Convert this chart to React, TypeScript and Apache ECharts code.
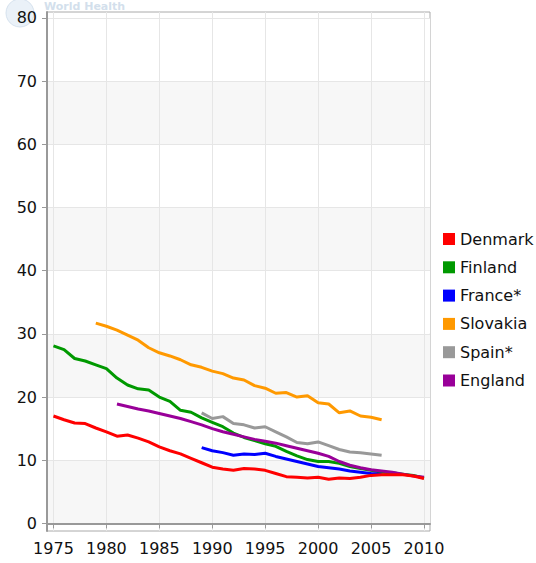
import React, { useEffect, useRef } from "react";
import * as echarts from "echarts";

const countries = ["Denmark", "Finland", "France*", "Slovakia", "Spain*", "England"];
const colors = ["#ff0000", "#009900", "#0000ff", "#ff9900", "#999999", "#990099"];
const startYears = [1975, 1975, 1989, 1979, 1989, 1981];

const denmark = [17.0, 16.4, 15.9, 15.8, 15.1, 14.5, 13.8, 14.0, 13.5, 12.9, 12.1, 11.5, 11.0, 10.3, 9.6, 8.9, 8.6, 8.4, 8.7, 8.6, 8.4, 7.9, 7.4, 7.3, 7.2, 7.3, 7.0, 7.2, 7.1, 7.3, 7.6, 7.7, 7.7, 7.7, 7.5, 7.1];
const finland = [28.1, 27.5, 26.1, 25.7, 25.1, 24.5, 23.0, 21.9, 21.3, 21.1, 20.0, 19.3, 17.9, 17.6, 16.7, 16.0, 15.3, 14.3, 13.6, 13.1, 12.6, 12.2, 11.4, 10.7, 10.1, 9.8, 9.8, 9.5, 9.0, 8.7, 8.4, 8.1, 8.0, 7.8, 7.6, 7.2];
const france = [12.0, 11.5, 11.2, 10.8, 11.0, 10.9, 11.1, 10.6, 10.2, 9.8, 9.4, 9.0, 8.8, 8.6, 8.3, 8.1, 7.9, 7.8];
const slovakia = [31.7, 31.2, 30.6, 29.8, 29.0, 27.8, 27.0, 26.5, 25.9, 25.1, 24.7, 24.1, 23.7, 23.0, 22.7, 21.8, 21.4, 20.6, 20.7, 20.0, 20.2, 19.1, 18.9, 17.5, 17.8, 17.0, 16.8, 16.4];
const spain = [17.5, 16.6, 16.9, 15.8, 15.6, 15.1, 15.3, 14.5, 13.7, 12.8, 12.6, 12.9, 12.3, 11.7, 11.3, 11.2, 11.0, 10.8];
const england = [18.9, 18.5, 18.1, 17.8, 17.4, 17.0, 16.6, 16.1, 15.6, 15.0, 14.5, 14.1, 13.7, 13.3, 13.0, 12.7, 12.3, 11.9, 11.5, 11.1, 10.6, 9.8, 9.2, 8.8, 8.5, 8.3, 8.1, 7.8, 7.5, 7.3];

const seriesValues = [denmark, finland, france, slovakia, spain, england];
const xTickLabels = [1975, 1980, 1985, 1990, 1995, 2000, 2005, 2010];
const yTickLabels = [0, 10, 20, 30, 40, 50, 60, 70, 80];

const FONT = "DejaVu Sans";

export default function App() {
  const ref = useRef<HTMLDivElement>(null);
  useEffect(() => {
    if (!ref.current) return;
    const chart = echarts.init(ref.current, undefined, { renderer: "svg" });
    const series = countries.map((name, i) => ({
      name,
      type: "line",
      data: seriesValues[i].map((v, j) => [startYears[i] + j, v]),
      showSymbol: false,
      symbol: "none",
      z: i === 0 ? 5 : 3,
      lineStyle: { color: colors[i], width: 3 },
      itemStyle: { color: colors[i] },
    }));
    chart.setOption({
      animation: false,
      backgroundColor: "#ffffff",
      textStyle: { fontFamily: FONT },
      graphic: [
        {
          type: "circle",
          z: -10,
          silent: true,
          shape: { cx: 20, cy: 13, r: 14 },
          style: { fill: "#eaf1f8", stroke: "#d6e2ee", lineWidth: 1 },
        },
        {
          type: "text",
          z: -10,
          silent: true,
          x: 44,
          y: 1,
          style: { text: "World Health", fontSize: 11, fontWeight: "bold", fill: "#d3dfec", fontFamily: FONT },
        },
      ],
      grid: {
        left: 47,
        right: 106,
        top: 12,
        bottom: 32,
        show: true,
        borderColor: "#aaaaaa",
        borderWidth: 1,
        backgroundColor: "transparent",
      },
      legend: {
        orient: "vertical",
        left: 438,
        top: 226,
        itemWidth: 12,
        itemHeight: 12,
        itemGap: 12.3,
        icon: "rect",
        data: countries,
        textStyle: { fontFamily: FONT, fontSize: 16, color: "#111" },
      },
      xAxis: {
        type: "value",
        min: 1974.39,
        max: 2010.57,
        splitNumber: 7,
        axisLine: { show: true, lineStyle: { color: "#999", width: 2 } },
        axisTick: { show: true, length: 5, lineStyle: { color: "#999" }, customValues: xTickLabels },
        axisLabel: {
          customValues: xTickLabels,
          fontFamily: FONT,
          fontSize: 16,
          color: "#111",
          margin: 9,
          formatter: (v: number) => String(Math.round(v)),
        },
        splitLine: { show: true, lineStyle: { color: "#e6e6e6", width: 1 } },
      },
      yAxis: {
        type: "value",
        min: -1.2,
        max: 80.93,
        splitNumber: 8,
        axisLine: { show: true, lineStyle: { color: "#999", width: 2 } },
        axisTick: { show: true, length: 5, lineStyle: { color: "#999" }, customValues: yTickLabels },
        axisLabel: {
          customValues: yTickLabels,
          fontFamily: FONT,
          fontSize: 16,
          color: "#111",
          margin: 10,
          formatter: (v: number) => String(Math.round(v)),
        },
        splitLine: { show: true, lineStyle: { color: "#e6e6e6", width: 1 } },
        splitArea: { show: true, areaStyle: { color: ["#f7f7f7", "#ffffff"] } },
      },
      series,
    });
    return () => chart.dispose();
  }, []);
  return <div ref={ref} style={{ position: "fixed", left: 0, top: 0, width: 536, height: 563 }} />;
}
